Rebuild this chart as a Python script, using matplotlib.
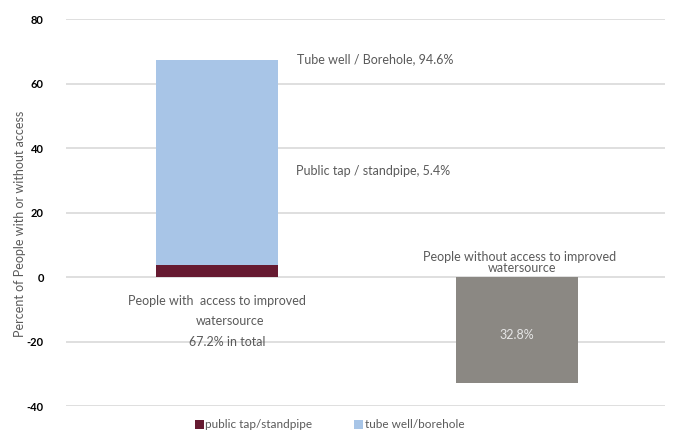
import numpy as np
import matplotlib.pyplot as plt

plt.rcParams['font.family'] = ['Lato', 'DejaVu Sans']
plt.rcParams['axes.unicode_minus'] = False

# Data
categories = ['with access', 'without access']
public_tap = [3.63, 0]
tube_well = [63.57, 0]
no_access = [0, -32.8]
total_access = 67.2
share_tube = 94.6
share_tap = 5.4

maroon = '#661a31'
blue = '#a8c5e7'
grey = '#8b8883'
txt = '#5a5a5a'

fig = plt.figure(figsize=(6.77, 4.43), dpi=100)
ax = fig.add_axes([0.0975, 0.0835, 0.8845, 0.8735])

x = np.arange(len(categories))
w = 0.405
ax.bar(x[0], public_tap[0], w, color=maroon, label='public tap/standpipe', zorder=3)
ax.bar(x[0], tube_well[0], w, bottom=public_tap[0], color=blue, label='tube well/borehole', zorder=3)
ax.bar(x[1], no_access[1], w, color=grey, zorder=3)

ax.set_xlim(-0.503, 1.493)
ax.set_ylim(-40, 80)
ax.set_yticks(np.arange(-40, 81, 20))
ax.yaxis.grid(True, color='#d9d9d9', linewidth=1.2, zorder=0)
ax.set_xticks([])
for s in ax.spines.values():
    s.set_visible(False)
ax.tick_params(axis='y', length=0, pad=16, labelsize=8)
for lab in ax.get_yticklabels():
    lab.set_fontweight('bold')
ax.set_ylabel('Percent of People with or without access', color=txt, fontsize=9)
ax.yaxis.set_label_coords(-0.066, 0.47)

# annotations
ax.text(0.267, total_access + 0.3, f'Tube well / Borehole, {share_tube}%', color=txt,
        fontsize=9, va='center', ha='left')
ax.text(0.263, 32.8, f'Public tap / standpipe, {share_tap}%', color=txt,
        fontsize=9, va='center', ha='left')
ax.text(0.0, -7.3, 'People with  access to improved', color=txt, fontsize=9,
        ha='center', va='center')
ax.text(0.045, -13.5, 'watersource', color=txt, fontsize=9, ha='center', va='center')
ax.text(0.033, -20.3, f'{total_access}% in total', color=txt, fontsize=9,
        ha='center', va='center')
ax.text(1.01, 6.2, 'People without access to improved', color=txt, fontsize=9,
        ha='center', va='center')
ax.text(1.017, 2.8, 'watersource', color=txt, fontsize=9, ha='center', va='center')
ax.text(x[1], no_access[1] / 2 - 1.5, f'{-no_access[1]}%', color='#e6e6e6', fontsize=9,
        ha='center', va='center', zorder=4)

ax.legend(loc='lower center', bbox_to_anchor=(0.44, -0.09), ncol=2, frameon=False,
          fontsize=8.5, labelcolor=txt, handlelength=0.8, handleheight=0.8,
          handletextpad=0.1, columnspacing=3.5)

fig.savefig('out.png', dpi=100)
